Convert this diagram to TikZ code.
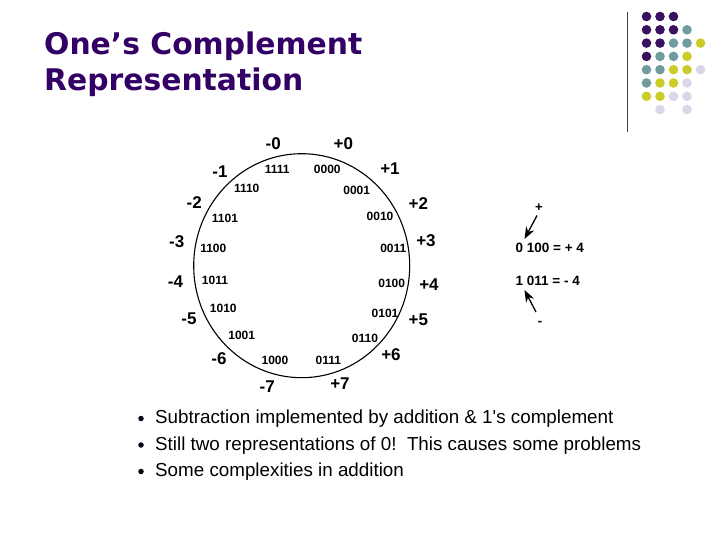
\documentclass[tikz,border=0pt]{standalone}
\usepackage{fontspec}
\setmainfont{Liberation Sans}
\newfontfamily\headfont{DejaVu Sans}
\usetikzlibrary{arrows.meta}
\definecolor{titlepurple}{RGB}{51,0,102}
\definecolor{dotpurple}{RGB}{58,16,96}
\definecolor{dotteal}{RGB}{112,156,160}
\definecolor{dotyellow}{RGB}{204,204,40}
\definecolor{dotlilac}{RGB}{216,216,234}
\tikzset{
  heading/.style={font=\headfont\bfseries\fontsize{29.8}{36}\selectfont, text=titlepurple, inner sep=0pt, anchor=base west},
  val/.style={font=\fontsize{17}{17}\selectfont\bfseries, inner sep=0pt},
  code/.style={font=\fontsize{12}{12}\selectfont\bfseries, inner sep=0pt},
  eqn/.style={font=\fontsize{13.5}{13.5}\selectfont\bfseries, inner sep=0pt, anchor=west},
  item/.style={font=\fontsize{18.8}{18.8}\selectfont, inner sep=0pt, anchor=base west},
  bul/.style={circle, fill=black!80!titlepurple, inner sep=0pt, minimum size=5.5pt},
  arr/.style={line width=1.3pt, -{Stealth[length=12pt,width=9pt]}}
}

\begin{document}
\begin{tikzpicture}[x=1pt, y=-1pt]
\useasboundingbox (0,0) rectangle (720,540);
% title
\node[heading] (title1) at (44,55) {One’s Complement};
\node[heading] (title2) at (44,91) {Representation};
% corner decoration
\draw[black!75, line width=0.9pt] (627,12) -- (627,132);
\fill[dotpurple] (646.5,16.5) circle (4.8pt) (660,16.5) circle (4.8pt) (673.5,16.5) circle (4.8pt);
\fill[dotpurple] (646.5,29.8) circle (4.8pt) (660,29.8) circle (4.8pt) (673.5,29.8) circle (4.8pt);
\fill[dotteal] (687,29.8) circle (4.8pt);
\fill[dotpurple] (646.5,43.1) circle (4.8pt) (660,43.1) circle (4.8pt);
\fill[dotteal] (673.5,43.1) circle (4.8pt) (687,43.1) circle (4.8pt);
\fill[dotyellow] (700.5,43.1) circle (4.8pt);
\fill[dotpurple] (646.5,56.4) circle (4.8pt);
\fill[dotteal] (660,56.4) circle (4.8pt) (673.5,56.4) circle (4.8pt);
\fill[dotyellow] (687,56.4) circle (4.8pt);
\fill[dotteal] (646.5,69.7) circle (4.8pt) (660,69.7) circle (4.8pt);
\fill[dotyellow] (673.5,69.7) circle (4.8pt) (687,69.7) circle (4.8pt);
\fill[dotlilac] (700.5,69.7) circle (4.8pt);
\fill[dotteal] (646.5,83) circle (4.8pt);
\fill[dotyellow] (660,83) circle (4.8pt) (673.5,83) circle (4.8pt);
\fill[dotlilac] (687,83) circle (4.8pt);
\fill[dotyellow] (646.5,96.3) circle (4.8pt) (660,96.3) circle (4.8pt);
\fill[dotlilac] (673.5,96.3) circle (4.8pt) (687,96.3) circle (4.8pt);
\fill[dotlilac] (660,109.6) circle (4.8pt) (687,109.6) circle (4.8pt);
% number wheel
\draw[line width=1.1pt] (301.7,265.7) ellipse [x radius=108pt, y radius=112pt];
\node[val] (m0) at (273.3,143.3) {-0};
\node[val] (p0) at (343.3,143.3) {+0};
\node[val] (m1) at (220,171.7) {-1};
\node[val] (p1) at (390,168.3) {+1};
\node[val] (m2) at (194.3,202.3) {-2};
\node[val] (p2) at (418.3,203.3) {+2};
\node[val] (m3) at (176.7,241.5) {-3};
\node[val] (p3) at (426,240.5) {+3};
\node[val] (m4) at (175.5,281.5) {-4};
\node[val] (p4) at (429,285) {+4};
\node[val] (m5) at (189,318.3) {-5};
\node[val] (p5) at (418.3,320) {+5};
\node[val] (m6) at (219,359) {-6};
\node[val] (p6) at (391,354.5) {+6};
\node[val] (m7) at (267.3,386.5) {-7};
\node[val] (p7) at (340,383.3) {+7};
\node[code] (c1111) at (277.3,169.3) {1111};
\node[code] (c0000) at (327.3,169.3) {0000};
\node[code] (c1110) at (246.7,188.3) {1110};
\node[code] (c0001) at (356.7,190) {0001};
\node[code] (c1101) at (225,218.3) {1101};
\node[code] (c0010) at (380,216.7) {0010};
\node[code] (c1100) at (213.3,248.3) {1100};
\node[code] (c0011) at (393.3,248.3) {0011};
\node[code] (c1011) at (215,280) {1011};
\node[code] (c0100) at (391.7,283.3) {0100};
\node[code] (c1010) at (223.3,308.3) {1010};
\node[code] (c0101) at (385,313.3) {0101};
\node[code] (c1001) at (241.7,335.7) {1001};
\node[code] (c0110) at (365,338.3) {0110};
\node[code] (c1000) at (275,360) {1000};
\node[code] (c0111) at (328.3,360) {0111};
% sign bit example
\node[eqn] (pos4) at (515.5,248) {0 100 = + 4};
\node[eqn] (neg4) at (515.5,281) {1 011 = - 4};
\node[val, font=\fontsize{13}{13}\selectfont\bfseries] (plus) at (539,207.5) {+};
\node[val, font=\fontsize{13}{13}\selectfont\bfseries] (minus) at (540,323) {-};
\draw[arr] ([shift={(-2,8)}]plus.center) -- ([shift={(9,-4)}]pos4.north west);
\draw[arr] ([shift={(-4,-11)}]minus.center) -- ([shift={(9,4)}]neg4.south west);
% bullets
\node[bul] (b1) at (141,418.5) {};
\node[bul] (b2) at (141,445) {};
\node[bul] (b3) at (141,471.5) {};
\node[item] (t1) at (155,423.5) {Subtraction implemented by addition \& 1\textquotesingle s complement};
\node[item] (t2) at (155,450) {Still two representations of 0!\ \ This causes some problems};
\node[item] (t3) at (155,476.5) {Some complexities in addition};
\end{tikzpicture}
\end{document}
